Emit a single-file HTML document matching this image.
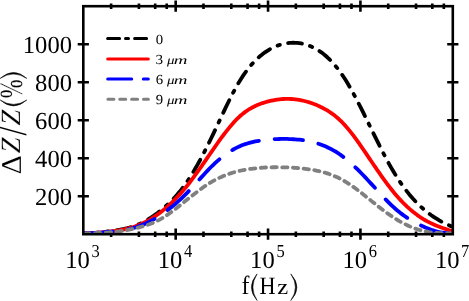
<!DOCTYPE html>
<html><head><meta charset="utf-8"><title>chart</title>
<style>html,body{margin:0;padding:0;background:#fff;}body{width:469px;height:301px;overflow:hidden;position:relative;font-family:"Liberation Serif",serif;}</style>
</head><body>
<svg width="469" height="301" viewBox="0 0 469 301" style="position:absolute;left:0;top:0;will-change:transform;text-rendering:geometricPrecision">
<rect width="469" height="301" fill="#fff"/>
<clipPath id="c"><rect x="83.30" y="6.20" width="369.50" height="228.00"/></clipPath>
<path d="M111.11,231.40V237.00M111.11,3.40V9.00M138.92,231.40V237.00M138.92,3.40V9.00M155.18,231.40V237.00M155.18,3.40V9.00M166.72,231.40V237.00M166.72,3.40V9.00M175.68,228.60V239.80M175.68,0.60V11.80M203.48,231.40V237.00M203.48,3.40V9.00M231.29,231.40V237.00M231.29,3.40V9.00M247.56,231.40V237.00M247.56,3.40V9.00M259.10,231.40V237.00M259.10,3.40V9.00M268.05,228.60V239.80M268.05,0.60V11.80M295.86,231.40V237.00M295.86,3.40V9.00M323.67,231.40V237.00M323.67,3.40V9.00M339.93,231.40V237.00M339.93,3.40V9.00M351.47,231.40V237.00M351.47,3.40V9.00M360.43,228.60V239.80M360.43,0.60V11.80M388.23,231.40V237.00M388.23,3.40V9.00M416.04,231.40V237.00M416.04,3.40V9.00M432.31,231.40V237.00M432.31,3.40V9.00M443.85,231.40V237.00M443.85,3.40V9.00M77.70,196.20H88.90M447.20,196.20H458.40M77.70,158.20H88.90M447.20,158.20H458.40M77.70,120.20H88.90M447.20,120.20H458.40M77.70,82.20H88.90M447.20,82.20H458.40M77.70,44.20H88.90M447.20,44.20H458.40" stroke="#000" stroke-width="2.6" fill="none"/>
<g clip-path="url(#c)" fill="none" stroke-width="3.8" stroke-linecap="round" stroke-linejoin="round">
<path d="M83.3,233.43 L85.3,233.38 L87.3,233.30 L89.3,233.20 L91.3,233.08 L93.3,232.93 L95.3,232.77 L97.3,232.59 L99.3,232.39 L101.3,232.18 L103.3,231.96 L105.3,231.73 L107.3,231.49 L109.3,231.24 L111.3,230.99 L113.3,230.73 L115.3,230.45 L117.3,230.15 L119.3,229.82 L121.3,229.47 L123.3,229.08 L125.3,228.65 L127.3,228.18 L129.3,227.66 L131.3,227.06 L133.3,226.40 L135.3,225.68 L137.3,224.88 L139.3,224.01 L141.3,223.08 L143.3,222.08 L145.3,221.00 L147.3,219.87 L149.3,218.66 L151.3,217.39 L153.3,216.04 L155.3,214.64 L157.3,213.16 L159.3,211.63 L161.3,210.02 L163.3,208.35 L165.3,206.61 L167.3,204.79 L169.3,202.90 L171.3,200.93 L173.3,198.87 L175.3,196.72 L177.3,194.46 L179.3,192.09 L181.3,189.60 L183.3,186.99 L185.3,184.25 L187.3,181.38 L189.3,178.37 L191.3,175.23 L193.3,171.97 L195.3,168.58 L197.3,165.08 L199.3,161.48 L201.3,157.77 L203.3,153.98 L205.3,150.09 L207.3,146.13 L209.3,142.10 L211.3,137.99 L213.3,133.83 L215.3,129.62 L217.3,125.38 L219.3,121.11 L221.3,116.85 L223.3,112.62 L225.3,108.42 L227.3,104.27 L229.3,100.21 L231.3,96.24 L233.3,92.38 L235.3,88.65 L237.3,85.07 L239.3,81.66 L241.3,78.43 L243.3,75.39 L245.3,72.51 L247.3,69.81 L249.3,67.27 L251.3,64.89 L253.3,62.66 L255.3,60.57 L257.3,58.62 L259.3,56.81 L261.3,55.13 L263.3,53.57 L265.3,52.13 L267.3,50.80 L269.3,49.57 L271.3,48.46 L273.3,47.45 L275.3,46.54 L277.3,45.74 L279.3,45.03 L281.3,44.43 L283.3,43.92 L285.3,43.50 L287.3,43.18 L289.3,42.95 L291.3,42.81 L293.3,42.75 L295.3,42.79 L297.3,42.92 L299.3,43.14 L301.3,43.46 L303.3,43.87 L305.3,44.39 L307.3,45.00 L309.3,45.72 L311.3,46.55 L313.3,47.48 L315.3,48.53 L317.3,49.68 L319.3,50.95 L321.3,52.34 L323.3,53.85 L325.3,55.49 L327.3,57.26 L329.3,59.16 L331.3,61.19 L333.3,63.37 L335.3,65.69 L337.3,68.16 L339.3,70.77 L341.3,73.55 L343.3,76.48 L345.3,79.58 L347.3,82.82 L349.3,86.20 L351.3,89.71 L353.3,93.33 L355.3,97.05 L357.3,100.86 L359.3,104.75 L361.3,108.70 L363.3,112.71 L365.3,116.75 L367.3,120.83 L369.3,124.92 L371.3,129.01 L373.3,133.10 L375.3,137.17 L377.3,141.21 L379.3,145.22 L381.3,149.17 L383.3,153.07 L385.3,156.89 L387.3,160.64 L389.3,164.30 L391.3,167.86 L393.3,171.30 L395.3,174.63 L397.3,177.83 L399.3,180.89 L401.3,183.84 L403.3,186.66 L405.3,189.36 L407.3,191.95 L409.3,194.43 L411.3,196.79 L413.3,199.06 L415.3,201.22 L417.3,203.28 L419.3,205.25 L421.3,207.13 L423.3,208.92 L425.3,210.62 L427.3,212.24 L429.3,213.79 L431.3,215.25 L433.3,216.64 L435.3,217.97 L437.3,219.22 L439.3,220.41 L441.3,221.54 L443.3,222.60 L445.3,223.62 L447.3,224.57 L449.3,225.48 L451.3,226.34 L452.8,226.96" stroke="#000" stroke-dasharray="13.9 8.4175 2.4 8.4175" stroke-dashoffset="-0.79"/>
<path d="M83.3,233.51 L85.3,233.41 L87.3,233.31 L89.3,233.20 L91.3,233.09 L93.3,232.97 L95.3,232.84 L97.3,232.70 L99.3,232.56 L101.3,232.40 L103.3,232.23 L105.3,232.05 L107.3,231.86 L109.3,231.66 L111.3,231.43 L113.3,231.19 L115.3,230.93 L117.3,230.64 L119.3,230.33 L121.3,229.98 L123.3,229.60 L125.3,229.17 L127.3,228.71 L129.3,228.20 L131.3,227.63 L133.3,227.00 L135.3,226.31 L137.3,225.57 L139.3,224.76 L141.3,223.90 L143.3,222.97 L145.3,221.99 L147.3,220.94 L149.3,219.82 L151.3,218.64 L153.3,217.39 L155.3,216.08 L157.3,214.70 L159.3,213.25 L161.3,211.73 L163.3,210.13 L165.3,208.47 L167.3,206.73 L169.3,204.92 L171.3,203.06 L173.3,201.13 L175.3,199.12 L177.3,197.04 L179.3,194.89 L181.3,192.66 L183.3,190.35 L185.3,187.97 L187.3,185.51 L189.3,182.98 L191.3,180.37 L193.3,177.71 L195.3,174.99 L197.3,172.22 L199.3,169.41 L201.3,166.57 L203.3,163.70 L205.3,160.81 L207.3,157.91 L209.3,155.01 L211.3,152.11 L213.3,149.22 L215.3,146.35 L217.3,143.51 L219.3,140.71 L221.3,137.95 L223.3,135.25 L225.3,132.61 L227.3,130.05 L229.3,127.57 L231.3,125.19 L233.3,122.91 L235.3,120.74 L237.3,118.70 L239.3,116.79 L241.3,115.02 L243.3,113.38 L245.3,111.87 L247.3,110.48 L249.3,109.21 L251.3,108.04 L253.3,106.97 L255.3,105.99 L257.3,105.10 L259.3,104.29 L261.3,103.55 L263.3,102.87 L265.3,102.25 L267.3,101.68 L269.3,101.16 L271.3,100.70 L273.3,100.28 L275.3,99.92 L277.3,99.61 L279.3,99.36 L281.3,99.16 L283.3,99.02 L285.3,98.93 L287.3,98.90 L289.3,98.93 L291.3,99.01 L293.3,99.15 L295.3,99.36 L297.3,99.62 L299.3,99.94 L301.3,100.31 L303.3,100.75 L305.3,101.24 L307.3,101.79 L309.3,102.39 L311.3,103.05 L313.3,103.77 L315.3,104.54 L317.3,105.37 L319.3,106.26 L321.3,107.21 L323.3,108.22 L325.3,109.31 L327.3,110.48 L329.3,111.74 L331.3,113.09 L333.3,114.53 L335.3,116.09 L337.3,117.75 L339.3,119.53 L341.3,121.44 L343.3,123.47 L345.3,125.64 L347.3,127.93 L349.3,130.34 L351.3,132.85 L353.3,135.45 L355.3,138.14 L357.3,140.89 L359.3,143.71 L361.3,146.58 L363.3,149.49 L365.3,152.42 L367.3,155.38 L369.3,158.34 L371.3,161.30 L373.3,164.24 L375.3,167.18 L377.3,170.09 L379.3,172.96 L381.3,175.81 L383.3,178.61 L385.3,181.36 L387.3,184.06 L389.3,186.70 L391.3,189.26 L393.3,191.76 L395.3,194.17 L397.3,196.49 L399.3,198.73 L401.3,200.89 L403.3,202.95 L405.3,204.94 L407.3,206.84 L409.3,208.65 L411.3,210.38 L413.3,212.04 L415.3,213.60 L417.3,215.09 L419.3,216.50 L421.3,217.83 L423.3,219.08 L425.3,220.26 L427.3,221.37 L429.3,222.41 L431.3,223.39 L433.3,224.32 L435.3,225.19 L437.3,226.01 L439.3,226.80 L441.3,227.54 L443.3,228.24 L445.3,228.92 L447.3,229.57 L449.3,230.20 L451.3,230.81 L452.8,231.27" stroke="#f00"/>
<path d="M83.3,233.53 L85.3,233.49 L87.3,233.43 L89.3,233.34 L91.3,233.24 L93.3,233.12 L95.3,232.99 L97.3,232.84 L99.3,232.69 L101.3,232.52 L103.3,232.34 L105.3,232.16 L107.3,231.97 L109.3,231.78 L111.3,231.59 L113.3,231.39 L115.3,231.18 L117.3,230.95 L119.3,230.71 L121.3,230.44 L123.3,230.15 L125.3,229.82 L127.3,229.45 L129.3,229.04 L131.3,228.58 L133.3,228.05 L135.3,227.47 L137.3,226.83 L139.3,226.13 L141.3,225.37 L143.3,224.55 L145.3,223.68 L147.3,222.75 L149.3,221.76 L151.3,220.72 L153.3,219.62 L155.3,218.46 L157.3,217.25 L159.3,215.98 L161.3,214.66 L163.3,213.29 L165.3,211.85 L167.3,210.37 L169.3,208.82 L171.3,207.24 L173.3,205.61 L175.3,203.93 L177.3,202.18 L179.3,200.38 L181.3,198.53 L183.3,196.61 L185.3,194.64 L187.3,192.61 L189.3,190.52 L191.3,188.39 L193.3,186.22 L195.3,184.02 L197.3,181.81 L199.3,179.59 L201.3,177.37 L203.3,175.17 L205.3,173.00 L207.3,170.87 L209.3,168.78 L211.3,166.75 L213.3,164.79 L215.3,162.90 L217.3,161.10 L219.3,159.37 L221.3,157.72 L223.3,156.16 L225.3,154.67 L227.3,153.26 L229.3,151.93 L231.3,150.67 L233.3,149.50 L235.3,148.41 L237.3,147.39 L239.3,146.46 L241.3,145.60 L243.3,144.82 L245.3,144.11 L247.3,143.46 L249.3,142.88 L251.3,142.35 L253.3,141.88 L255.3,141.46 L257.3,141.09 L259.3,140.75 L261.3,140.45 L263.3,140.19 L265.3,139.95 L267.3,139.74 L269.3,139.55 L271.3,139.39 L273.3,139.25 L275.3,139.14 L277.3,139.05 L279.3,138.99 L281.3,138.95 L283.3,138.93 L285.3,138.94 L287.3,138.97 L289.3,139.03 L291.3,139.12 L293.3,139.23 L295.3,139.36 L297.3,139.53 L299.3,139.73 L301.3,139.96 L303.3,140.23 L305.3,140.54 L307.3,140.89 L309.3,141.28 L311.3,141.72 L313.3,142.21 L315.3,142.76 L317.3,143.35 L319.3,144.00 L321.3,144.71 L323.3,145.48 L325.3,146.32 L327.3,147.21 L329.3,148.17 L331.3,149.20 L333.3,150.30 L335.3,151.47 L337.3,152.71 L339.3,154.03 L341.3,155.42 L343.3,156.90 L345.3,158.45 L347.3,160.07 L349.3,161.77 L351.3,163.54 L353.3,165.37 L355.3,167.25 L357.3,169.19 L359.3,171.18 L361.3,173.21 L363.3,175.28 L365.3,177.38 L367.3,179.52 L369.3,181.68 L371.3,183.86 L373.3,186.05 L375.3,188.25 L377.3,190.45 L379.3,192.63 L381.3,194.80 L383.3,196.94 L385.3,199.04 L387.3,201.10 L389.3,203.10 L391.3,205.05 L393.3,206.92 L395.3,208.72 L397.3,210.44 L399.3,212.08 L401.3,213.64 L403.3,215.12 L405.3,216.53 L407.3,217.88 L409.3,219.16 L411.3,220.37 L413.3,221.53 L415.3,222.64 L417.3,223.69 L419.3,224.70 L421.3,225.66 L423.3,226.57 L425.3,227.45 L427.3,228.27 L429.3,229.04 L431.3,229.76 L433.3,230.42 L435.3,231.02 L437.3,231.55 L439.3,232.02 L441.3,232.41 L443.3,232.73 L445.3,232.97 L447.3,233.13 L449.3,233.20 L451.3,233.19 L452.8,233.12" stroke="#00f" stroke-dasharray="28.4 15.82" stroke-dashoffset="-0.95"/>
<path d="M83.3,233.60 L85.3,233.57 L87.3,233.45 L89.3,233.34 L91.3,233.25 L93.3,233.17 L95.3,233.10 L97.3,233.02 L99.3,232.94 L101.3,232.86 L103.3,232.77 L105.3,232.66 L107.3,232.54 L109.3,232.39 L111.3,232.22 L113.3,232.02 L115.3,231.80 L117.3,231.56 L119.3,231.29 L121.3,231.00 L123.3,230.69 L125.3,230.36 L127.3,230.00 L129.3,229.63 L131.3,229.21 L133.3,228.77 L135.3,228.31 L137.3,227.83 L139.3,227.33 L141.3,226.79 L143.3,226.22 L145.3,225.62 L147.3,224.96 L149.3,224.26 L151.3,223.50 L153.3,222.68 L155.3,221.80 L157.3,220.85 L159.3,219.82 L161.3,218.71 L163.3,217.52 L165.3,216.25 L167.3,214.91 L169.3,213.50 L171.3,212.06 L173.3,210.58 L175.3,209.05 L177.3,207.49 L179.3,205.91 L181.3,204.30 L183.3,202.69 L185.3,201.07 L187.3,199.45 L189.3,197.85 L191.3,196.26 L193.3,194.69 L195.3,193.14 L197.3,191.62 L199.3,190.13 L201.3,188.68 L203.3,187.26 L205.3,185.89 L207.3,184.57 L209.3,183.30 L211.3,182.08 L213.3,180.93 L215.3,179.84 L217.3,178.81 L219.3,177.84 L221.3,176.92 L223.3,176.07 L225.3,175.26 L227.3,174.51 L229.3,173.81 L231.3,173.16 L233.3,172.55 L235.3,171.98 L237.3,171.46 L239.3,170.97 L241.3,170.52 L243.3,170.11 L245.3,169.73 L247.3,169.39 L249.3,169.07 L251.3,168.79 L253.3,168.53 L255.3,168.30 L257.3,168.10 L259.3,167.92 L261.3,167.76 L263.3,167.63 L265.3,167.52 L267.3,167.42 L269.3,167.35 L271.3,167.29 L273.3,167.25 L275.3,167.23 L277.3,167.22 L279.3,167.23 L281.3,167.26 L283.3,167.30 L285.3,167.36 L287.3,167.43 L289.3,167.52 L291.3,167.62 L293.3,167.73 L295.3,167.86 L297.3,168.01 L299.3,168.17 L301.3,168.36 L303.3,168.56 L305.3,168.79 L307.3,169.05 L309.3,169.33 L311.3,169.64 L313.3,169.98 L315.3,170.36 L317.3,170.77 L319.3,171.21 L321.3,171.69 L323.3,172.22 L325.3,172.79 L327.3,173.41 L329.3,174.07 L331.3,174.79 L333.3,175.57 L335.3,176.41 L337.3,177.30 L339.3,178.26 L341.3,179.29 L343.3,180.39 L345.3,181.56 L347.3,182.80 L349.3,184.10 L351.3,185.46 L353.3,186.87 L355.3,188.32 L357.3,189.81 L359.3,191.33 L361.3,192.88 L363.3,194.46 L365.3,196.05 L367.3,197.65 L369.3,199.25 L371.3,200.86 L373.3,202.46 L375.3,204.05 L377.3,205.63 L379.3,207.19 L381.3,208.73 L383.3,210.25 L385.3,211.74 L387.3,213.20 L389.3,214.62 L391.3,216.00 L393.3,217.34 L395.3,218.63 L397.3,219.87 L399.3,221.06 L401.3,222.19 L403.3,223.28 L405.3,224.30 L407.3,225.27 L409.3,226.19 L411.3,227.04 L413.3,227.84 L415.3,228.58 L417.3,229.26 L419.3,229.87 L421.3,230.43 L423.3,230.92 L425.3,231.36 L427.3,231.73 L429.3,232.06 L431.3,232.34 L433.3,232.58 L435.3,232.78 L437.3,232.95 L439.3,233.08 L441.3,233.19 L443.3,233.27 L445.3,233.34 L447.3,233.38 L449.3,233.42 L451.3,233.45 L452.8,233.48" stroke="#808080" stroke-dasharray="5.3 5.43" stroke-dashoffset="-1.05"/>
</g>
<rect x="83.3" y="6.2" width="369.50" height="228.00" fill="none" stroke="#000" stroke-width="2.6"/>
<g fill="none" stroke-width="3" stroke-linecap="round">
<path d="M107.6,38.45H148" stroke="#000" stroke-dasharray="12 5.9 3 6.1"/>
<path d="M107.7,59H148.3" stroke="#f00"/>
<path d="M107.7,79.1H148.3" stroke="#00f" stroke-dasharray="24.0 11.6"/>
<path d="M107.9,99.2H148.4" stroke="#808080" stroke-dasharray="6 5.85"/>
</g>
<g font-family="Liberation Serif" fill="#000">
<text x="72.0" y="204.8" font-size="24.6" text-anchor="end">200</text>
<text x="72.0" y="166.8" font-size="24.6" text-anchor="end">400</text>
<text x="72.0" y="128.8" font-size="24.6" text-anchor="end">600</text>
<text x="72.0" y="90.8" font-size="24.6" text-anchor="end">800</text>
<text x="72.0" y="52.8" font-size="24.6" text-anchor="end">1000</text>
<text x="65.3" y="267.7" font-size="24.6">10</text><text transform="translate(91.6,256.8) scale(0.98,1.09)" font-size="16.8">3</text>
<text x="157.7" y="267.7" font-size="24.6">10</text><text transform="translate(184.0,256.8) scale(0.98,1.09)" font-size="16.8">4</text>
<text x="250.1" y="267.7" font-size="24.6">10</text><text transform="translate(276.4,256.8) scale(0.98,1.09)" font-size="16.8">5</text>
<text x="342.5" y="267.7" font-size="24.6">10</text><text transform="translate(368.7,256.8) scale(0.98,1.09)" font-size="16.8">6</text>
<text x="434.9" y="267.7" font-size="24.6">10</text><text transform="translate(461.1,256.8) scale(0.98,1.09)" font-size="16.8">7</text>
<text transform="matrix(0.9890,0,0,1.0960,241.39,293.60)" font-size="24.0">f</text>
<text transform="matrix(0.9234,0,0,1.0406,259.44,293.60)" font-size="24.0">H</text>
<text transform="matrix(1.0256,0,0,0.9058,277.24,293.60)" font-size="24.0">z</text>
<text stroke="#fff" stroke-width="0.15" transform="matrix(0,-1.2646,1.1995,0,20.50,174.41)" font-size="24.0">Δ</text>
<text stroke="#fff" stroke-width="0.15" transform="matrix(0,-1.1818,1.1612,0,20.30,153.28)" font-size="24.0" font-style="italic">Z</text>
<text transform="matrix(0,-1.3554,1.6853,0,26.40,135.60)" font-size="24.0">/</text>
<text stroke="#fff" stroke-width="0.15" transform="matrix(0,-1.1818,1.1612,0,20.30,125.48)" font-size="24.0" font-style="italic">Z</text>
<text stroke="#fff" stroke-width="0.15" transform="matrix(0,-0.9402,1.3480,0,21.57,98.35)" font-size="24.0">%</text>
<path d="M257.10,273.90Q245.70,287.20 257.10,300.50Q248.70,287.20 257.10,273.90Z" fill="#000" stroke="#000" stroke-width="0.55" stroke-linejoin="round"/>
<path d="M290.80,273.90Q303.00,287.20 290.80,300.50Q300.00,287.20 290.80,273.90Z" fill="#000" stroke="#000" stroke-width="0.55" stroke-linejoin="round"/>
<path d="M0.20,100.00Q13.50,111.80 26.80,100.00Q13.50,108.80 0.20,100.00Z" fill="#000" stroke="#000" stroke-width="0.55" stroke-linejoin="round"/>
<path d="M0.20,78.40Q13.50,66.60 26.80,78.40Q13.50,69.60 0.20,78.40Z" fill="#000" stroke="#000" stroke-width="0.55" stroke-linejoin="round"/>
<text transform="matrix(1.2305,0,0,1.1510,155.76,43.56)" font-size="12">0</text>
<text transform="matrix(1.2702,0,0,1.1510,155.59,63.86)" font-size="12">3</text>
<text transform="matrix(1.2500,0,0,1.0149,167.00,63.90)" font-size="12" font-style="italic">μ</text>
<text transform="matrix(1.5803,0,0,1.0106,173.70,64.00)" font-size="12" font-style="italic">m</text>
<text transform="matrix(1.2305,0,0,1.1510,155.66,83.66)" font-size="12">6</text>
<text transform="matrix(1.2500,0,0,1.0149,167.00,83.70)" font-size="12" font-style="italic">μ</text>
<text transform="matrix(1.5803,0,0,1.0106,173.70,83.80)" font-size="12" font-style="italic">m</text>
<text transform="matrix(1.2305,0,0,1.1510,155.81,103.66)" font-size="12">9</text>
<text transform="matrix(1.2500,0,0,1.0149,167.00,103.70)" font-size="12" font-style="italic">μ</text>
<text transform="matrix(1.5803,0,0,1.0106,173.70,103.80)" font-size="12" font-style="italic">m</text>
</g>
</svg>
</body></html>
